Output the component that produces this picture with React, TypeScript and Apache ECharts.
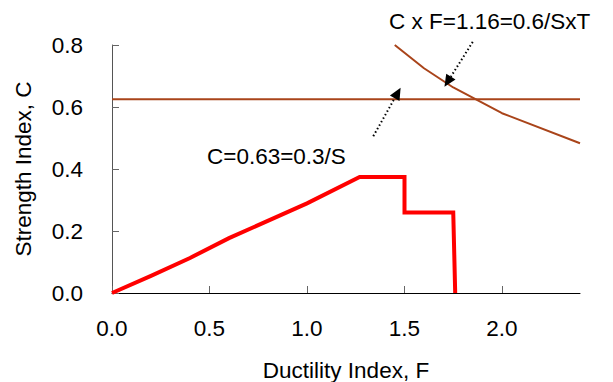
import React, { useEffect, useRef } from "react";
import * as echarts from "echarts";

const capacityF = [0, 0.2, 0.4, 0.6, 1.0, 1.27, 1.5, 1.5, 1.75, 1.76];
const capacityC = [0, 0.055, 0.113, 0.177, 0.289, 0.374, 0.374, 0.26, 0.26, 0];

const demandF = [1.45, 1.6, 1.75, 2.0, 2.4];
const demandC = [0.8, 0.725, 0.663, 0.58, 0.483];

const strengthF = [0, 2.4];
const strengthC = [0.625, 0.625];

const xTicks = [0, 0.5, 1.0, 1.5, 2.0];
const yTicks = [0, 0.2, 0.4, 0.6, 0.8];

const arrowStrength = [[1.34, 0.506], [1.48, 0.662]];
const arrowDemand = [[1.85, 0.81], [1.705, 0.665]];

const labelDemand = "C x F=1.16=0.6/SxT";
const labelStrength = "C=0.63=0.3/S";

const FONT = "Liberation Sans, Arial, sans-serif";
const FS = 22.5;

export default function App() {
  const ref = useRef<HTMLDivElement>(null);
  useEffect(() => {
    if (!ref.current) return;
    const chart = echarts.init(ref.current, undefined, { renderer: "svg" });
    const pairs = (xs: number[], ys: number[]) => xs.map((x, i) => [x, ys[i]]);
    chart.setOption({
      animation: false,
      grid: { left: 112, right: 33, top: 45, bottom: 89, containLabel: false, outerBoundsMode: "none" },
      xAxis: {
        type: "value",
        min: 0,
        max: 2.4,
        interval: 0.5,
        name: "Ductility Index, F",
        nameLocation: "middle",
        nameGap: 66,
        nameTextStyle: { fontFamily: FONT, fontSize: FS, color: "#000" },
        axisLine: { show: true, lineStyle: { color: "#000", width: 1 } },
        axisTick: { show: true, inside: true, length: 7, lineStyle: { color: "#666" }, customValues: xTicks },
        axisLabel: {
          customValues: xTicks,
          margin: 24,
          fontFamily: FONT,
          fontSize: FS,
          color: "#000",
          formatter: (v: number) => v.toFixed(1),
        },
        splitLine: { show: false },
      },
      yAxis: {
        type: "value",
        min: 0,
        max: 0.8,
        interval: 0.2,
        name: "Strength Index, C",
        nameLocation: "middle",
        nameGap: 77,
        nameTextStyle: { fontFamily: FONT, fontSize: FS, color: "#000" },
        axisLine: { show: true, lineStyle: { color: "#555", width: 1 } },
        axisTick: { show: true, inside: true, length: 7, lineStyle: { color: "#666" }, customValues: yTicks },
        axisLabel: {
          customValues: yTicks,
          margin: 29,
          fontFamily: FONT,
          fontSize: FS,
          color: "#000",
          formatter: (v: number) => v.toFixed(1),
        },
        splitLine: { show: false },
      },
      series: [
        {
          type: "line",
          data: pairs(strengthF, strengthC),
          symbol: "none",
          lineStyle: { color: "#A9441A", width: 2 },
        },
        {
          type: "line",
          data: pairs(demandF, demandC),
          symbol: "none",
          lineStyle: { color: "#A9441A", width: 2 },
        },
        {
          type: "line",
          data: pairs(capacityF, capacityC),
          symbol: "none",
          clip: false,
          lineStyle: { color: "#FF0000", width: 4, join: "miter" },
          z: 3,
        },
      ],
    });

    const arrowGraphics = (a: number[][]) => {
      const p0 = chart.convertToPixel({ gridIndex: 0 }, a[0]) as number[];
      const p1 = chart.convertToPixel({ gridIndex: 0 }, a[1]) as number[];
      const dx = p1[0] - p0[0];
      const dy = p1[1] - p0[1];
      const len = Math.hypot(dx, dy);
      const ux = dx / len;
      const uy = dy / len;
      const headLen = 12;
      const headHalf = 5.5;
      const bx = p1[0] - ux * headLen;
      const by = p1[1] - uy * headLen;
      return [
        {
          type: "line",
          shape: { x1: p0[0], y1: p0[1], x2: bx, y2: by },
          style: { stroke: "#000", lineWidth: 2, lineDash: [1.5, 2.5] },
          z: 10,
        },
        {
          type: "polygon",
          shape: {
            points: [
              [p1[0], p1[1]],
              [bx - uy * headHalf, by + ux * headHalf],
              [bx + uy * headHalf, by - ux * headHalf],
            ],
          },
          style: { fill: "#000" },
          z: 10,
        },
      ];
    };

    chart.setOption({
      graphic: [
        {
          type: "text",
          left: 389,
          top: 10,
          style: { text: labelDemand, fontFamily: FONT, fontSize: FS, fill: "#000" },
        },
        {
          type: "text",
          left: 207,
          top: 145,
          style: { text: labelStrength, fontFamily: FONT, fontSize: FS, fill: "#000" },
        },
        ...arrowGraphics(arrowStrength),
        ...arrowGraphics(arrowDemand),
      ],
    });
    return () => chart.dispose();
  }, []);
  return (
    <div
      ref={ref}
      style={{ position: "fixed", left: 0, top: 0, width: 613, height: 382, background: "#fff" }}
    />
  );
}
